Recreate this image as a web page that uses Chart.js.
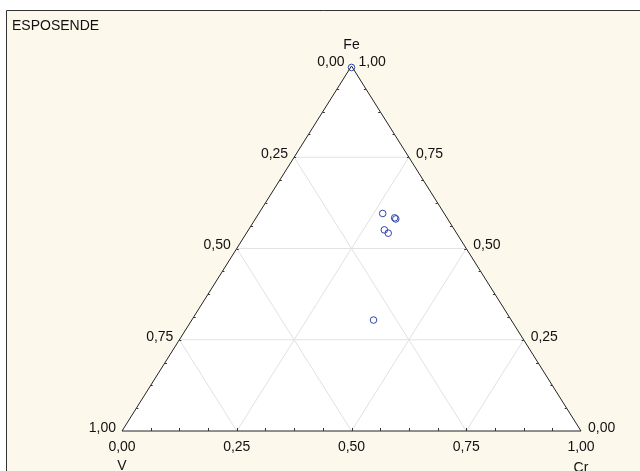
<!DOCTYPE html>
<html>
<head>
<meta charset="utf-8">
<script src="https://cdn.jsdelivr.net/npm/chart.js@4"></script>
<style>
html,body{margin:0;padding:0;background:#fff;}
#wrap{width:640px;height:471px;position:relative;}
</style>
</head>
<body>
<div id="wrap"><canvas id="c" width="640" height="471"></canvas></div>
<script>
// ---- data ----
const chartTitle = 'ESPOSENDE';
const vertexLabels = ['V', 'Cr', 'Fe'];
const gridValues = [0.25, 0.5, 0.75];
const tickValues = [0, 0.25, 0.5, 0.75, 1];
const tickLabels = ['0,00', '0,25', '0,50', '0,75', '1,00'];
const crValues = [0.002, 0.270, 0.302, 0.306, 0.296, 0.309, 0.396];
const feValues = [0.996, 0.596, 0.584, 0.581, 0.551, 0.542, 0.304];

// ternary -> cartesian (x along bottom, y = Fe)
function toXY(cr, fe) { return { x: cr + fe / 2, y: fe }; }

const points = crValues.map((cr, i) => toXY(cr, feValues[i]));

const gridColor = '#e2e2e2';
const datasets = [];

// grid lines
gridValues.forEach(v => {
  datasets.push({ type: 'scatter', showLine: true, clip: false, data: [toXY(0, v), toXY(1 - v, v)],
    borderColor: gridColor, borderWidth: 1, pointRadius: 0, fill: false, order: 5 });
  datasets.push({ type: 'scatter', showLine: true, clip: false, data: [toXY(v, 0), toXY(v, 1 - v)],
    borderColor: gridColor, borderWidth: 1, pointRadius: 0, fill: false, order: 5 });
  datasets.push({ type: 'scatter', showLine: true, clip: false, data: [toXY(1 - v, 0), toXY(0, 1 - v)],
    borderColor: gridColor, borderWidth: 1, pointRadius: 0, fill: false, order: 5 });
});

// triangle outline on top of grid
datasets.push({
  type: 'scatter', showLine: true, clip: false,
  data: [toXY(0, 0), toXY(1, 0), toXY(0, 1), toXY(0, 0)],
  borderColor: '#222', borderWidth: 1, pointRadius: 0, fill: false, order: 2
});

// data points
datasets.push({
  type: 'scatter', clip: false, data: points,
  pointStyle: 'circle', pointRadius: 3.3, pointBorderWidth: 1,
  borderColor: '#3146b0', backgroundColor: 'rgba(0,0,0,0)',
  pointBackgroundColor: 'rgba(0,0,0,0)', pointBorderColor: '#3146b0', order: 1
});

const bgPlugin = {
  id: 'bg',
  beforeDraw(chart) {
    const ctx = chart.ctx;
    ctx.save();
    ctx.fillStyle = '#ffffff';
    ctx.fillRect(0, 0, chart.width, chart.height);
    ctx.fillStyle = '#fdf8ec';
    ctx.fillRect(6, 10, chart.width - 6, chart.height - 10);
    ctx.strokeStyle = '#333';
    ctx.lineWidth = 1;
    ctx.beginPath();
    ctx.moveTo(6.5, chart.height);
    ctx.lineTo(6.5, 10.5);
    ctx.lineTo(chart.width, 10.5);
    ctx.stroke();
    ctx.restore();
  },
  beforeDatasetsDraw(chart) {
    const ctx = chart.ctx;
    const xs = chart.scales.x, ys = chart.scales.y;
    const px = p => ({ x: xs.getPixelForValue(p.x), y: ys.getPixelForValue(p.y) });
    const a = px(toXY(0, 0)), b = px(toXY(1, 0)), c = px(toXY(0, 1));
    ctx.save();
    ctx.fillStyle = '#ffffff';
    ctx.beginPath();
    ctx.moveTo(a.x, a.y); ctx.lineTo(b.x, b.y); ctx.lineTo(c.x, c.y); ctx.closePath();
    ctx.fill();
    ctx.restore();
  },
  afterDraw(chart) {
    const ctx = chart.ctx;
    const xs = chart.scales.x, ys = chart.scales.y;
    const px = p => ({ x: xs.getPixelForValue(p.x), y: ys.getPixelForValue(p.y) });
    ctx.save();
    // minor ticks
    ctx.strokeStyle = '#333';
    ctx.lineWidth = 1;
    ctx.beginPath();
    for (let i = 1; i < 16; i++) {
      const t = i / 16;
      let b = px(toXY(t, 0));
      ctx.moveTo(Math.round(b.x) + 0.5, b.y); ctx.lineTo(Math.round(b.x) + 0.5, b.y - 3);
      let l = px(toXY(0, t));
      ctx.moveTo(l.x, Math.round(l.y) + 0.5); ctx.lineTo(l.x + 2, Math.round(l.y) + 0.5);
      let r = px(toXY(1 - t, t));
      ctx.moveTo(r.x, Math.round(r.y) + 0.5); ctx.lineTo(r.x - 2, Math.round(r.y) + 0.5);
    }
    ctx.stroke();

    ctx.fillStyle = '#111';
    ctx.font = '14px "Liberation Sans", Arial, sans-serif';
    // title
    ctx.textAlign = 'left'; ctx.textBaseline = 'middle';
    ctx.fillText(chartTitle, 12, 26);

    // bottom axis (Cr)
    ctx.textAlign = 'center';
    tickValues.forEach((v, i) => {
      const p = px(toXY(v, 0));
      ctx.fillText(tickLabels[i], p.x, p.y + 16);
    });
    // left axis (V), V = 1 at bottom-left
    ctx.textAlign = 'right';
    tickValues.forEach((v, i) => {
      if (v === 0) return;
      const fe = 1 - v;
      const p = px(toXY(0, fe));
      ctx.fillText(tickLabels[i], p.x - 6, p.y - 3);
    });
    // right axis (Fe)
    ctx.textAlign = 'left';
    tickValues.forEach((v, i) => {
      if (v === 1) return;
      const p = px(toXY(1 - v, v));
      ctx.fillText(tickLabels[i], p.x + 7, p.y - 3);
    });
    // top vertex labels
    const top = px(toXY(0, 1));
    ctx.textAlign = 'right';
    ctx.fillText(tickLabels[0], top.x - 7, top.y - 4);
    ctx.textAlign = 'left';
    ctx.fillText(tickLabels[4], top.x + 7, top.y - 4);
    ctx.textAlign = 'center';
    ctx.fillText(vertexLabels[2], top.x, top.y - 21);
    // bottom vertex names
    const bl = px(toXY(0, 0)), br = px(toXY(1, 0));
    ctx.fillText(vertexLabels[0], bl.x, bl.y + 35);
    ctx.fillText(vertexLabels[1], br.x, br.y + 37);
    ctx.restore();
  }
};

new Chart(document.getElementById('c'), {
  type: 'scatter',
  data: { datasets },
  options: {
    responsive: false,
    animation: false,
    layout: { padding: { left: 122, right: 59, top: 66, bottom: 40 } },
    plugins: { legend: { display: false }, tooltip: { enabled: false }, title: { display: false } },
    scales: {
      x: { type: 'linear', min: 0, max: 1, display: false },
      y: { type: 'linear', min: 0, max: 1, display: false }
    },
    elements: { line: { tension: 0 } }
  },
  plugins: [bgPlugin]
});
</script>
</body>
</html>
